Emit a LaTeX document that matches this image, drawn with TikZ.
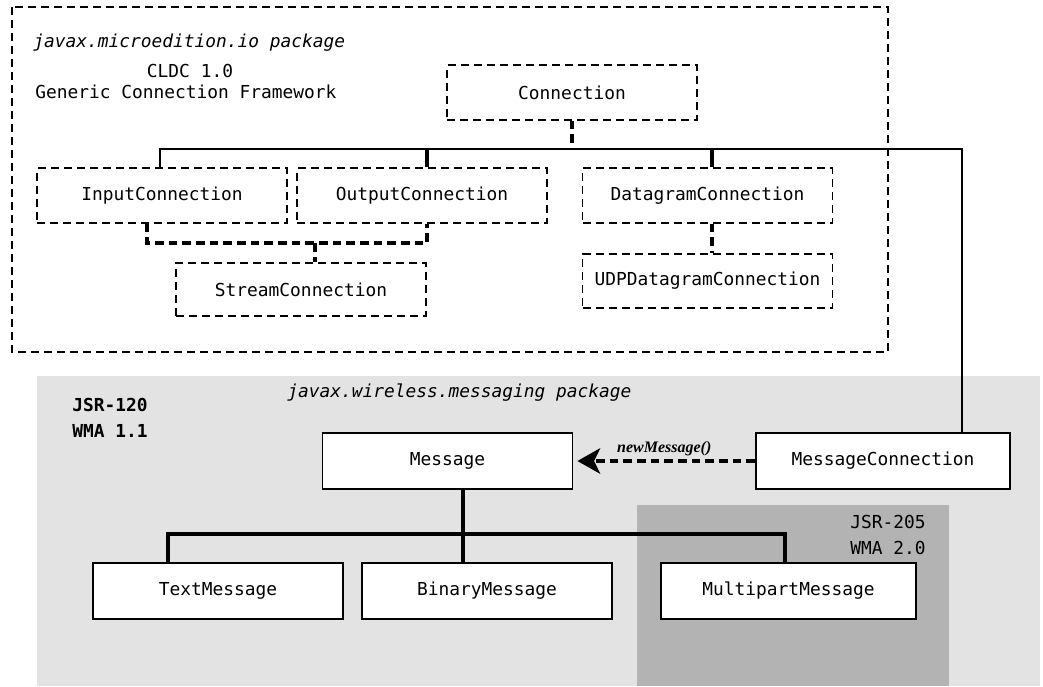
\documentclass[tikz,border=0pt]{standalone}
\usepackage{fontspec}
\usetikzlibrary{arrows.meta}
\newfontfamily\codefont{DejaVu Sans Mono}
\newfontfamily\notefont{Liberation Serif}
\definecolor{wmalight}{HTML}{E3E3E3}
\definecolor{wmadark}{HTML}{B3B3B3}
\begin{document}
\begin{tikzpicture}[x=0.75pt,y=-0.75pt,
  every node/.style={font=\codefont\fontsize{13.4}{16}\selectfont},
  ifbox/.style={draw, dash pattern=on 6pt off 3.75pt, line width=1.3pt, fill=white,
    minimum width=187.5pt, minimum height=41pt, inner sep=0pt},
  clsbox/.style={draw, line width=1.4pt, fill=white,
    minimum width=187.5pt, minimum height=42pt, inner sep=0pt},
  pkgframe/.style={draw, dash pattern=on 6pt off 3.75pt, line width=1.3pt},
  thickdash/.style={draw, dash pattern=on 6.5pt off 3.75pt, line width=3pt},
  busline/.style={draw, line width=1.4pt},
  treeline/.style={draw, line width=3pt},
  plain/.style={inner sep=0pt, anchor=west},
]
\useasboundingbox (0,0) rectangle (1043,686);

% package areas
\draw[pkgframe] (12,7) rectangle (888,352);
\fill[wmalight] (37,376) rectangle (1040,686);
\fill[wmadark] (637,505) rectangle (949,686);

% labels of the generic connection framework
\node[plain, font=\codefont\itshape\fontsize{13.4}{16}\selectfont] (gcftitle) at (33,43) {javax.microedition.io package};
\node[inner sep=0pt] (cldc) at (190,71) {CLDC 1.0};
\node[plain] (gcf) at (35,92) {Generic Connection Framework};

% labels of the messaging package
\node[plain, font=\codefont\itshape\fontsize{13.4}{16}\selectfont] (wmatitle) at (287,393) {javax.wireless.messaging package};
\node[plain, font=\codefont\bfseries\fontsize{13.4}{16}\selectfont] (jsr120) at (72,405) {JSR-120};
\node[plain, font=\codefont\bfseries\fontsize{13.4}{16}\selectfont] (wma11) at (72,431) {WMA 1.1};
\node[inner sep=0pt, anchor=east] (jsr205) at (926,522) {JSR-205};
\node[inner sep=0pt, anchor=east] (wma20) at (926,548) {WMA 2.0};

% interfaces of javax.microedition.io
\node[ifbox] (conn) at (572,92.5) {Connection};
\node[ifbox] (input) at (162,195.5) {InputConnection};
\node[ifbox] (output) at (422,195.5) {OutputConnection};
\node[ifbox] (dgram) at (707.5,195.5) {DatagramConnection};
\node[ifbox, minimum height=40pt] (stream) at (301,289.5) {StreamConnection};
\node[ifbox, minimum height=40.5pt] (udp) at (707.5,281) {UDPDatagramConnection};

% interfaces of javax.wireless.messaging
\node[clsbox] (msg) at (447.5,461) {Message};
\node[clsbox, minimum width=190.5pt] (mconn) at (883,461) {MessageConnection};
\node[clsbox] (txt) at (218,591) {TextMessage};
\node[clsbox] (bin) at (487,591) {BinaryMessage};
\node[clsbox, minimum width=191pt] (multi) at (788.5,591) {MultipartMessage};

% inheritance from Connection
\coordinate (busL) at (160,149);
\coordinate (busR) at (962,149);
\draw[busline] (busL |- input.north) -- (busL) -- (busR) -- (busR |- mconn.north);
\draw[thickdash] (conn.south) -- (conn.south |- busL);
\draw[line width=3pt] ([xshift=3.75pt]output.north) -- ([xshift=3.75pt]output.north |- busL);
\draw[line width=3pt] ([xshift=3.4pt]dgram.north) -- ([xshift=3.4pt]dgram.north |- busL);

% StreamConnection extends InputConnection and OutputConnection
\coordinate (sj) at (315,243);
\draw[thickdash] ([xshift=-11.25pt]input.south) |- (sj) -| ([xshift=3.75pt]output.south);
\draw[thickdash] (sj) -- (sj |- stream.north);

% UDPDatagramConnection extends DatagramConnection
\draw[thickdash] ([xshift=3.4pt]dgram.south) -- ([xshift=3.4pt]dgram.south |- udp.north);

% message factory call
\draw[thickdash, -{Stealth[length=17pt, width=19pt, inset=4.5pt]}, shorten >=3pt]
  (mconn.west) -- (msg.east)
  node[midway, above=-1pt, font=\notefont\itshape\bfseries\fontsize{12}{14}\selectfont] (newmsg) {newMessage()};

% Message subtypes
\coordinate (tj) at (463,534);
\coordinate (tl) at (168,534);
\coordinate (tr) at (785,534);
\draw[treeline] (tj |- msg.south) -- (tj) -- (tj |- bin.north);
\draw[treeline] (tl |- txt.north) -- (tl) -- (tr) -- (tr |- multi.north);
\end{tikzpicture}
\end{document}
